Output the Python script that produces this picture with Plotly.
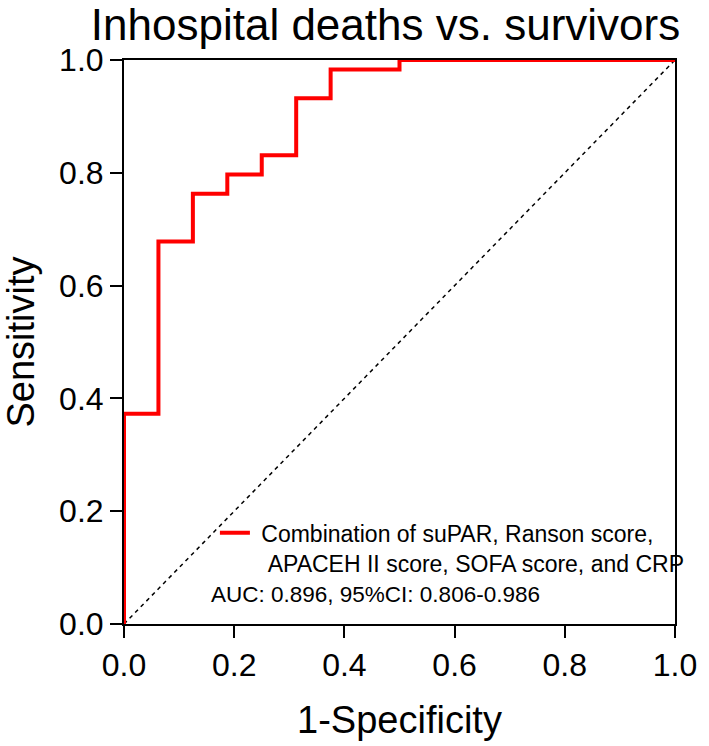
import plotly.graph_objects as go

# ROC step points (1-Specificity, Sensitivity)
fpr = [0.0, 0.0, 0.0625, 0.125, 0.1875, 0.25, 0.3125, 0.375, 0.5, 1.0]
tpr = [0.0, 0.373, 0.678, 0.763, 0.797, 0.831, 0.932, 0.983, 1.0, 1.0]
ref_x = [0.0, 1.0]
ref_y = [0.0, 1.0]
tick_vals = [0.0, 0.2, 0.4, 0.6, 0.8, 1.0]
tick_text = ["0.0", "0.2", "0.4", "0.6", "0.8", "1.0"]
series_name = ("\u00a0Combination of suPAR, Ranson score,<br>"
               "\u00a0\u00a0APACEH II score, SOFA score, and CRP")
auc_text = "AUC: 0.896, 95%CI: 0.806-0.986"
title_text = "Inhospital deaths vs. survivors"

FONT = "Liberation Sans, Arial, sans-serif"

fig = go.Figure()
fig.add_trace(go.Scatter(x=ref_x, y=ref_y, mode="lines",
                         line=dict(color="black", width=1.5, dash="4px,4px"),
                         showlegend=False, hoverinfo="skip"))
fig.add_trace(go.Scatter(x=fpr, y=tpr, mode="lines", line_shape="hv",
                         line=dict(color="#ff0000", width=4),
                         name=series_name))

axis_common = dict(range=[0, 1], tickvals=tick_vals, ticktext=tick_text,
                   showgrid=False, zeroline=False, showline=True,
                   linecolor="black", linewidth=2, mirror=True,
                   ticks="outside", ticklen=12, tickwidth=2, tickcolor="black",
                   tickfont=dict(family=FONT, size=32, color="black"),
                   layer="below traces", fixedrange=True)

fig.update_layout(
    width=709, height=746,
    margin=dict(l=117, r=23, t=60, b=118),
    paper_bgcolor="white", plot_bgcolor="white",
    font=dict(family=FONT, color="black"),
    title=dict(text=title_text, font=dict(family=FONT, size=44, color="black"),
               x=385.5 / 709, xanchor="center", xref="container",
               y=0.988, yanchor="top", yref="container"),
    xaxis=dict(**axis_common,
               title=dict(text="1-Specificity", font=dict(family=FONT, size=38), standoff=24)),
    yaxis=dict(**axis_common,
               title=dict(text="Sensitivity", font=dict(family=FONT, size=38), standoff=21)),
    legend=dict(x=0.165, y=0.20, xanchor="left", yanchor="top",
                bgcolor="rgba(0,0,0,0)", borderwidth=0, valign="top",
                font=dict(family=FONT, size=23, color="black"),
                itemwidth=30),
    annotations=[dict(text=auc_text, x=0.457, y=0.053, xref="paper", yref="paper",
                      xanchor="center", yanchor="middle", showarrow=False,
                      font=dict(family=FONT, size=22.5, color="black"))],
)

fig.write_html("out.html", config={"displayModeBar": False},
               post_script="document.body.style.margin='0';")
